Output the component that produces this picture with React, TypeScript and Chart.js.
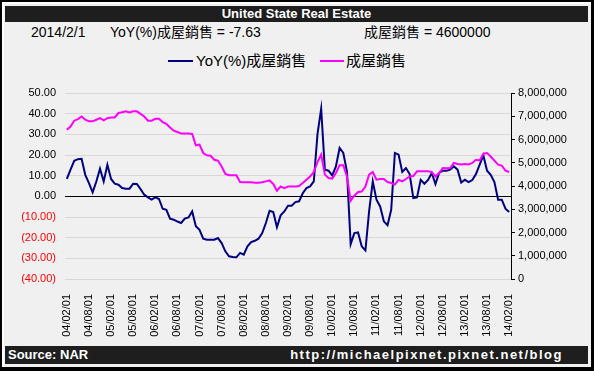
import React, { useEffect, useRef } from 'react';
import { Chart, registerables } from 'chart.js';

Chart.register(...registerables);

const FONT = "'Liberation Sans', Arial, 'Noto Sans CJK TC', sans-serif";

// Monthly categories, 2004/02 .. 2014/02
const START_YEAR = 2004;
const START_MONTH = 2;
const MONTH_COUNT = 121;
const CATEGORIES: string[] = [];
for (let i = 0; i < MONTH_COUNT; i++) {
  const m0 = START_MONTH - 1 + i;
  const y = START_YEAR + Math.floor(m0 / 12);
  const m = (m0 % 12) + 1;
  CATEGORIES.push(`${String(y % 100).padStart(2, '0')}/${String(m).padStart(2, '0')}/01`);
}
const LABEL_EVERY = 6;

// YoY(%) 成屋銷售 (left axis)
const YOY = [
  8.4, 12.9, 17.2, 18.0, 18.2, 10.4, 6.4, 1.9, 7.2, 13.4, 7.2, 15.3,
  8.4, 6.1, 5.6, 4.0, 3.7, 3.7, 6.1, 6.0, 3.5, 0.8, -0.5, -1.6,
  -0.5, -1.3, -6.0, -6.5, -10.8, -11.3, -12.2, -12.9, -10.8, -10.2, -7.3, -14.5,
  -16.2, -20.5, -21.0, -21.0, -21.0, -20.2, -22.6, -26.6, -29.0, -29.4, -29.5, -27.4,
  -28.2, -24.2, -22.1, -21.5, -20.5, -17.8, -12.9, -7.0, -7.6, -15.0, -9.2, -7.3,
  -4.5, -4.5, -2.8, -2.4, 1.5, 4.0, 4.8, 7.2, 30.1, 42.4, 12.9, 12.4,
  10.1, 14.5, 23.4, 21.0, 12.0, -23.1, -17.8, -17.5, -24.2, -26.2, -7.3, 7.2,
  -1.6, -4.9, -12.1, -14.0, -6.5, 21.0, 20.2, 11.8, 13.7, 10.8, -0.8, -0.5,
  8.0, 6.1, 7.9, 11.3, 5.9, 11.3, 12.4, 12.4, 12.9, 14.5, 12.9, 6.7,
  8.0, 6.9, 7.9, 10.8, 15.3, 19.8, 12.4, 10.4, 6.9, -1.6, -1.6, -6.0,
  -7.63,
];

// 成屋銷售 (right axis)
const SALES = [
  6420000, 6560000, 6810000, 6880000, 6990000, 6850000, 6780000, 6780000, 6850000, 6920000, 6820000, 6920000,
  6950000, 6950000, 7140000, 7170000, 7210000, 7160000, 7210000, 7210000, 7100000, 6990000, 6810000, 6810000,
  6890000, 6890000, 6750000, 6670000, 6520000, 6380000, 6320000, 6260000, 6260000, 6260000, 6240000, 5750000,
  5780000, 5420000, 5320000, 5300000, 5130000, 5090000, 4840000, 4520000, 4460000, 4460000, 4460000, 4170000,
  4160000, 4160000, 4160000, 4140000, 4140000, 4160000, 4200000, 4240000, 4090000, 3800000, 3980000, 3910000,
  3980000, 3980000, 3980000, 4000000, 4130000, 4270000, 4410000, 4600000, 5030000, 5350000, 4490000, 4340000,
  4320000, 4560000, 4890000, 4890000, 4410000, 3370000, 3580000, 3740000, 3760000, 3980000, 4490000, 4600000,
  4270000, 4300000, 4300000, 4170000, 4130000, 4060000, 4270000, 4200000, 4300000, 4410000, 4430000, 4630000,
  4630000, 4630000, 4630000, 4600000, 4410000, 4560000, 4770000, 4760000, 4770000, 4990000, 4950000, 4930000,
  4950000, 4930000, 4990000, 5130000, 5100000, 5390000, 5420000, 5270000, 5090000, 4920000, 4880000, 4660000,
  4600000,
];

const LEFT_MIN = -40;
const LEFT_MAX = 50;
const LEFT_STEP = 10;
const RIGHT_MIN = 0;
const RIGHT_MAX = 8000000;
const RIGHT_STEP = 1000000;

const TITLE = 'United State Real Estate';
const INFO_DATE = '2014/2/1';
const SERIES_YOY = 'YoY(%)成屋銷售';
const SERIES_SALES = '成屋銷售';
const SOURCE = 'Source: NAR';
const URL_TEXT = 'http://michaelpixnet.pixnet.net/blog';

const fmtLeft = (v: number) => (v < 0 ? `(${Math.abs(v).toFixed(2)})` : v.toFixed(2));
const fmtRight = (v: number) => String(Math.round(v)).replace(/\B(?=(\d{3})+(?!\d))/g, ',');

export default function App() {
  const ref = useRef<HTMLCanvasElement>(null);

  useEffect(() => {
    const canvas = ref.current;
    if (!canvas) return;
    const chart = new Chart(canvas, {
      type: 'line',
      data: {
        labels: CATEGORIES,
        datasets: [
          {
            label: SERIES_YOY,
            data: YOY,
            borderColor: '#000080',
            backgroundColor: '#000080',
            borderWidth: 2,
            pointRadius: 0,
            tension: 0,
            yAxisID: 'y',
            order: 2,
          },
          {
            label: SERIES_SALES,
            data: SALES,
            borderColor: '#ff00ff',
            backgroundColor: '#ff00ff',
            borderWidth: 2,
            pointRadius: 0,
            tension: 0,
            yAxisID: 'y1',
            order: 1,
          },
        ],
      },
      options: {
        responsive: false,
        animation: false,
        layout: { padding: { left: 15, right: 0, top: 93, bottom: 32 } },
        plugins: { legend: { display: false }, tooltip: { enabled: false }, title: { display: false } },
        scales: {
          x: {
            type: 'category',
            offset: true,
            grid: { display: false },
            border: { display: false },
            ticks: {
              autoSkip: false,
              maxRotation: 90,
              minRotation: 90,
              padding: 7,
              color: '#000',
              font: { family: FONT, size: 11 },
              callback: (_v: any, i: number) => (i % LABEL_EVERY === 0 ? CATEGORIES[i] : null),
            },
            afterFit: (s: any) => {
              s.height = 60;
            },
          },
          y: {
            position: 'left',
            min: LEFT_MIN,
            max: LEFT_MAX,
            ticks: {
              stepSize: LEFT_STEP,
              padding: 9,
              font: { family: FONT, size: 11 },
              color: (ctx: any) => (ctx.tick && ctx.tick.value < 0 ? '#ff0000' : '#000000'),
              callback: (v: any) => fmtLeft(Number(v)),
            },
            grid: {
              drawTicks: false,
              color: (ctx: any) => (ctx.tick && ctx.tick.value === 0 ? '#000000' : '#dcd6d6'),
              lineWidth: 1,
            },
            border: { display: false },
            afterFit: (s: any) => {
              s.width = 50;
            },
          },
          y1: {
            position: 'right',
            min: RIGHT_MIN,
            max: RIGHT_MAX,
            ticks: {
              stepSize: RIGHT_STEP,
              padding: 3,
              font: { family: FONT, size: 11 },
              color: '#000',
              callback: (v: any) => fmtRight(Number(v)),
            },
            grid: { drawOnChartArea: false, drawTicks: true, tickLength: 4, color: '#000' },
            border: { display: true, color: '#000', width: 1 },
            afterFit: (s: any) => {
              s.width = 83;
            },
          },
        },
      },
    } as any);
    return () => chart.destroy();
  }, []);

  const abs = (o: React.CSSProperties): React.CSSProperties => ({ position: 'absolute', ...o });

  return (
    <div style={abs({ left: 0, top: 0, width: 594, height: 371, background: '#000', overflow: 'hidden', fontFamily: FONT })}>
      <div style={abs({ left: 2, top: 2, width: 589, height: 365, background: '#f0f0f0', boxShadow: 'inset 2px 2px 0 #ffffff' })} />
      <div
        style={abs({
          left: 5, top: 6, width: 583, height: 16, background: '#1e1e1e', color: '#fff',
          font: `bold 13px ${FONT}`, lineHeight: '16px', textAlign: 'center', whiteSpace: 'nowrap',
        })}
      >
        {TITLE}
      </div>
      <div style={abs({ left: 31, top: 24, font: `14px ${FONT}`, lineHeight: '16px', color: '#000', whiteSpace: 'nowrap' })}>{INFO_DATE}</div>
      <div style={abs({ left: 110, top: 24, font: `14px ${FONT}`, lineHeight: '16px', color: '#000', whiteSpace: 'nowrap' })}>
        {`${SERIES_YOY} = ${YOY[YOY.length - 1]}`}
      </div>
      <div style={abs({ left: 364, top: 24, font: `14px ${FONT}`, lineHeight: '16px', color: '#000', whiteSpace: 'nowrap' })}>
        {`${SERIES_SALES} = ${SALES[SALES.length - 1]}`}
      </div>
      <div style={abs({ left: 168, top: 60, width: 25, height: 2, background: '#000080' })} />
      <div style={abs({ left: 196, top: 51, font: `15px ${FONT}`, lineHeight: '20px', color: '#000', whiteSpace: 'nowrap' })}>{SERIES_YOY}</div>
      <div style={abs({ left: 320, top: 60, width: 24, height: 2, background: '#ff00ff' })} />
      <div style={abs({ left: 346, top: 51, font: `15px ${FONT}`, lineHeight: '20px', color: '#000', whiteSpace: 'nowrap' })}>{SERIES_SALES}</div>
      <canvas ref={ref} width={594} height={371} style={abs({ left: 0, top: 0, width: 594, height: 371 })} />
      <div style={abs({ left: 5, top: 346, width: 583, height: 18, background: '#1e1e1e' })} />
      <div style={abs({ left: 8, top: 346, font: `bold 13px ${FONT}`, lineHeight: '18px', color: '#fff', whiteSpace: 'nowrap' })}>{SOURCE}</div>
      <div style={abs({ right: 594 - 563, top: 346, font: `bold 13px ${FONT}`, lineHeight: '18px', letterSpacing: '1.5px', color: '#fff', whiteSpace: 'nowrap' })}>
        {URL_TEXT}
      </div>
    </div>
  );
}
